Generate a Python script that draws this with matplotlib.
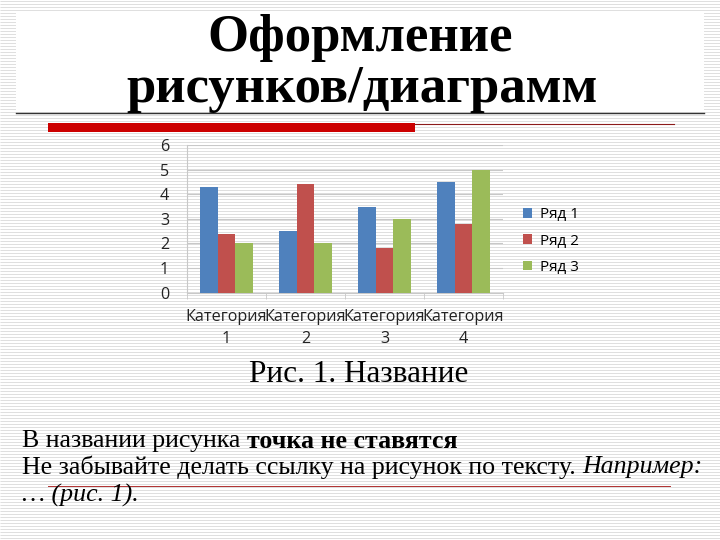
import matplotlib
matplotlib.use("Agg")
import matplotlib.pyplot as plt
import numpy as np

categories = ["Категория\n1", "Категория\n2", "Категория\n3", "Категория\n4"]
series_names = ["Ряд 1", "Ряд 2", "Ряд 3"]
series1 = [4.3, 2.5, 3.5, 4.5]
series2 = [2.4, 4.4, 1.8, 2.8]
series3 = [2.0, 2.0, 3.0, 5.0]
colors = ["#4f81bd", "#c0504d", "#9bbb59"]
y_ticks = [0, 1, 2, 3, 4, 5, 6]

W, H = 720, 540
fig = plt.figure(figsize=(7.2, 5.4), dpi=100)
fig.patch.set_facecolor("white")

# background (pixel coordinates)
bg = fig.add_axes([0, 0, 1, 1])
bg.set_xlim(0, W)
bg.set_ylim(H, 0)
bg.axis("off")
bg.hlines(np.arange(1, H, 3), 0, W, colors="#dedede", lw=0.7, zorder=0)
# white title box
bg.add_patch(plt.Rectangle((16, 12), 688, 100, facecolor="white", edgecolor="none", zorder=1))
bg.plot([16, 704], [112.5, 112.5], color="#333333", lw=1.0, zorder=2)
# red bar and thin line
bg.add_patch(plt.Rectangle((48, 123), 367, 9, facecolor="#cc0000", edgecolor="none", zorder=2))
bg.plot([415, 674], [124, 124], color="#8b1a1a", lw=0.8, zorder=2)

serif = ["Liberation Serif", "DejaVu Serif"]
bg.text(360, 38, "Оформление", ha="center", va="center", fontsize=38,
        fontweight="bold", family=serif, zorder=3)
bg.text(362, 89, "рисунков/диаграмм", ha="center", va="center", fontsize=38,
        fontweight="bold", family=serif, zorder=3)

bg.text(359, 375, "Рис. 1. Название", ha="center", va="center", fontsize=22.5,
        family=serif, zorder=3)

# body text
fs = 18.6
t1 = bg.text(22, 441, "В названии рисунка ", ha="left", va="center", fontsize=fs,
             family=serif, zorder=3)
fig.canvas.draw()
r = fig.canvas.get_renderer()
bb = t1.get_window_extent(r)
x_end = bg.transData.inverted().transform((bb.x1, bb.y0))[0]
bg.text(x_end, 441, "точка не ставятся", ha="left", va="center", fontsize=fs,
        fontweight="bold", family=serif, zorder=3)

t2 = bg.text(22, 467, "Не забывайте делать ссылку на рисунок по тексту. ", ha="left",
             va="center", fontsize=fs, family=serif, zorder=3)
bb = t2.get_window_extent(r)
x_end = bg.transData.inverted().transform((bb.x1, bb.y0))[0]
bg.text(x_end, 467, "Например:", ha="left", va="center", fontsize=fs,
        style="italic", family=serif, zorder=3)
bg.plot([48, 670], [486, 486], color="#b03030", lw=0.7, zorder=2)
bg.text(22, 495, "… (рис. 1).", ha="left", va="center", fontsize=fs,
        style="italic", family=serif, zorder=3)

# chart
ax = fig.add_axes([187 / W, (H - 292.7) / H, (503 - 187) / W, (292.7 - 145) / H])
ax.set_facecolor("none")
x = np.arange(len(categories))
bw = 1 / 4.5
for i, (vals, c, name) in enumerate(zip([series1, series2, series3], colors, series_names)):
    ax.bar(x + (i - 1) * bw, vals, width=bw, color=c, label=name, zorder=3)
ax.set_xlim(-0.5, len(categories) - 0.5)
ax.set_ylim(0, 6)
ax.set_yticks(y_ticks)
ax.set_yticklabels([str(v) for v in y_ticks])
ax.grid(axis="y", color="#c8c8c8", lw=0.8, zorder=0)
ax.set_xticks(x)
ax.set_xticklabels(categories, linespacing=1.5)
ax.set_xticks(np.arange(-0.5, len(categories)), minor=True)
ax.tick_params(axis="x", which="major", length=0, pad=12, labelsize=11.6)
ax.tick_params(axis="x", which="minor", length=4, color="#c8c8c8")
ax.tick_params(axis="y", length=0, pad=13, labelsize=11.6)
for s in ["top", "right"]:
    ax.spines[s].set_visible(False)
ax.spines["left"].set_color("#c8c8c8")
ax.spines["bottom"].set_color("#c8c8c8")
for lbl in ax.get_xticklabels() + ax.get_yticklabels():
    lbl.set_family(["Open Sans", "DejaVu Sans"])
    lbl.set_color("#222222")

ax.legend(loc="center left", bbox_to_anchor=(1.02, 0.35), frameon=False,
          handlelength=0.6, handleheight=0.6, handletextpad=0.5,
          labelspacing=0.75, prop={"family": ["Open Sans", "DejaVu Sans"], "size": 11})

fig.savefig("out.png", dpi=100, facecolor="white")
